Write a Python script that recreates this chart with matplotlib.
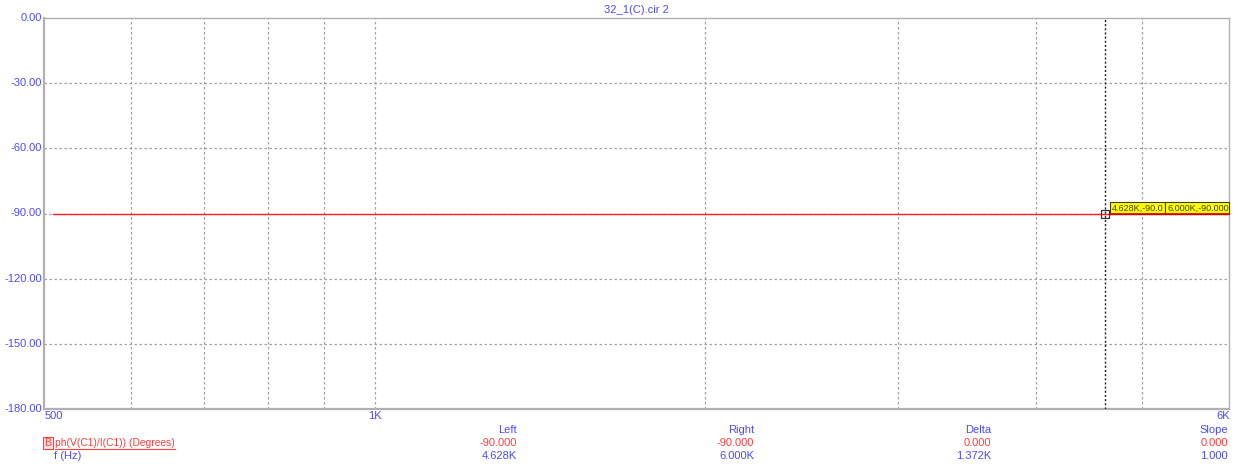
import matplotlib
matplotlib.use("Agg")
import matplotlib.pyplot as plt
import numpy as np
from matplotlib.ticker import NullLocator
from matplotlib.patches import Rectangle

plt.rcParams['font.family'] = ['Liberation Sans', 'DejaVu Sans']

# Data
freq = [510, 1000, 2000, 3000, 4000, 4628, 5000, 6000]
phase = [-90, -90, -90, -90, -90, -90, -90, -90]
x_grid = [600, 700, 800, 900, 1000, 2000, 3000, 4000, 5000]
y_ticks = [0, -30, -60, -90, -120, -150, -180]
y_labels = ['0.00', '-30.00', '-60.00', '-90.00', '-120.00', '-150.00', '-180.00']
cursor_left = (4628, -90.0)
cursor_right = (6000, -90.0)
title = '32_1(C).cir 2'
trace_name = 'ph(V(C1)/I(C1)) (Degrees)'
xname = 'f (Hz)'
cols = ['Left', 'Right', 'Delta', 'Slope']
vals_y = ['-90.000', '-90.000', '0.000', '0.000']
vals_x = ['4.628K', '6.000K', '1.372K', '1.000']
cursor_texts = ['4.628K,-90.0', '6.000K,-90.000']

BLUE = '#4a4aff'
RED = '#ff3b3b'
W, H = 1249, 468
fig = plt.figure(figsize=(W / 100, H / 100), dpi=100)
L, R, T, B = 44, 1229, 18, 409
ax = fig.add_axes([L / W, 1 - B / H, (R - L) / W, (B - T) / H])
ax.set_xscale('log')
ax.set_xlim(500, 6000)
ax.set_ylim(-180, 0)

for xv in x_grid:
    ax.axvline(xv, color='#a0a0a0', lw=0.9, ls=(0, (2, 2)), zorder=1)
for yv in y_ticks[1:-1]:
    ax.axhline(yv, color='#a0a0a0', lw=0.9, ls=(0, (2, 2)), zorder=1)

ax.plot(freq, phase, color='#ff2020', lw=1.0, zorder=3)

# cursor
ax.axvline(cursor_left[0], color='#202020', lw=1.0, ls=(0, (1.5, 1.5)), zorder=4)
ax.plot([cursor_left[0]], [cursor_left[1]], marker='s', ms=6, mfc='none', mec='#303030', mew=0.9, zorder=5)

ax.xaxis.set_major_locator(NullLocator())
ax.xaxis.set_minor_locator(NullLocator())
ax.yaxis.set_major_locator(NullLocator())
for s in ax.spines.values():
    s.set_color('#b0b0b0')
    s.set_linewidth(1.0)
ax.spines['left'].set_linewidth(1.6)
ax.spines['bottom'].set_linewidth(1.6)

def px(x, y):
    return fig.transFigure.inverted().transform((x, H - y))

# y tick labels
for yv, lab in zip(y_ticks, y_labels):
    ypix = T + (0 - yv) / 180 * (B - T)
    fig.text(*px(42, ypix), lab, color=BLUE, fontsize=8, ha='right', va='center')

# x tick labels
fig.text(*px(45, 416), '500', color=BLUE, fontsize=8, ha='left', va='center')
fig.text(*px(375, 416), '1K', color=BLUE, fontsize=8, ha='center', va='center')
fig.text(*px(1230, 416), '6K', color=BLUE, fontsize=8, ha='right', va='center')

fig.text(*px(636, 10), title, color=BLUE, fontsize=8, ha='center', va='center')

# cursor labels
def box(x0, x1, text):
    r = Rectangle(px(x0, 214), *(np.array(px(x1, 202)) - np.array(px(x0, 214))),
                  transform=fig.transFigure, facecolor='#ffff00', edgecolor='#404020', lw=0.8, zorder=6)
    fig.add_artist(r)
    fig.add_artist(plt.Line2D([px(x0, 214.5)[0], px(x1, 214.5)[0]], [px(x0, 214.5)[1]] * 2,
                              transform=fig.transFigure, color='#dd0000', lw=1.2, zorder=7))
    t = fig.text(*px(x0 + 2, 208), text, color='#404000', fontsize=6.5, ha='left', va='center', zorder=8)
    t.set_clip_path(r)
box(1110, 1165, cursor_texts[0])
box(1165, 1229, cursor_texts[1])

# bottom table
xs = [517, 754, 991, 1228]
for xr, c, vy, vx in zip(xs, cols, vals_y, vals_x):
    fig.text(*px(xr, 430), c, color=BLUE, fontsize=8, ha='right', va='center')
    fig.text(*px(xr, 443), vy, color=RED, fontsize=8, ha='right', va='center')
    fig.text(*px(xr, 456), vx, color=BLUE, fontsize=8, ha='right', va='center')

# legend entry
rb = Rectangle(px(43, 449), *(np.array(px(53, 437)) - np.array(px(43, 449))),
               transform=fig.transFigure, facecolor='#ffe0e0', edgecolor=RED, lw=0.8)
fig.add_artist(rb)
fig.text(*px(48, 443), 'B', color=RED, fontsize=7.5, ha='center', va='center')
fig.text(*px(55, 443), trace_name, color=RED, fontsize=7.4, ha='left', va='center')
fig.add_artist(plt.Line2D([px(55, 449)[0], px(175, 449)[0]], [px(55, 449)[1]] * 2,
                          transform=fig.transFigure, color=RED, lw=0.8))
fig.text(*px(54, 456), xname, color=BLUE, fontsize=8, ha='left', va='center')

fig.savefig('out.png', dpi=100)
